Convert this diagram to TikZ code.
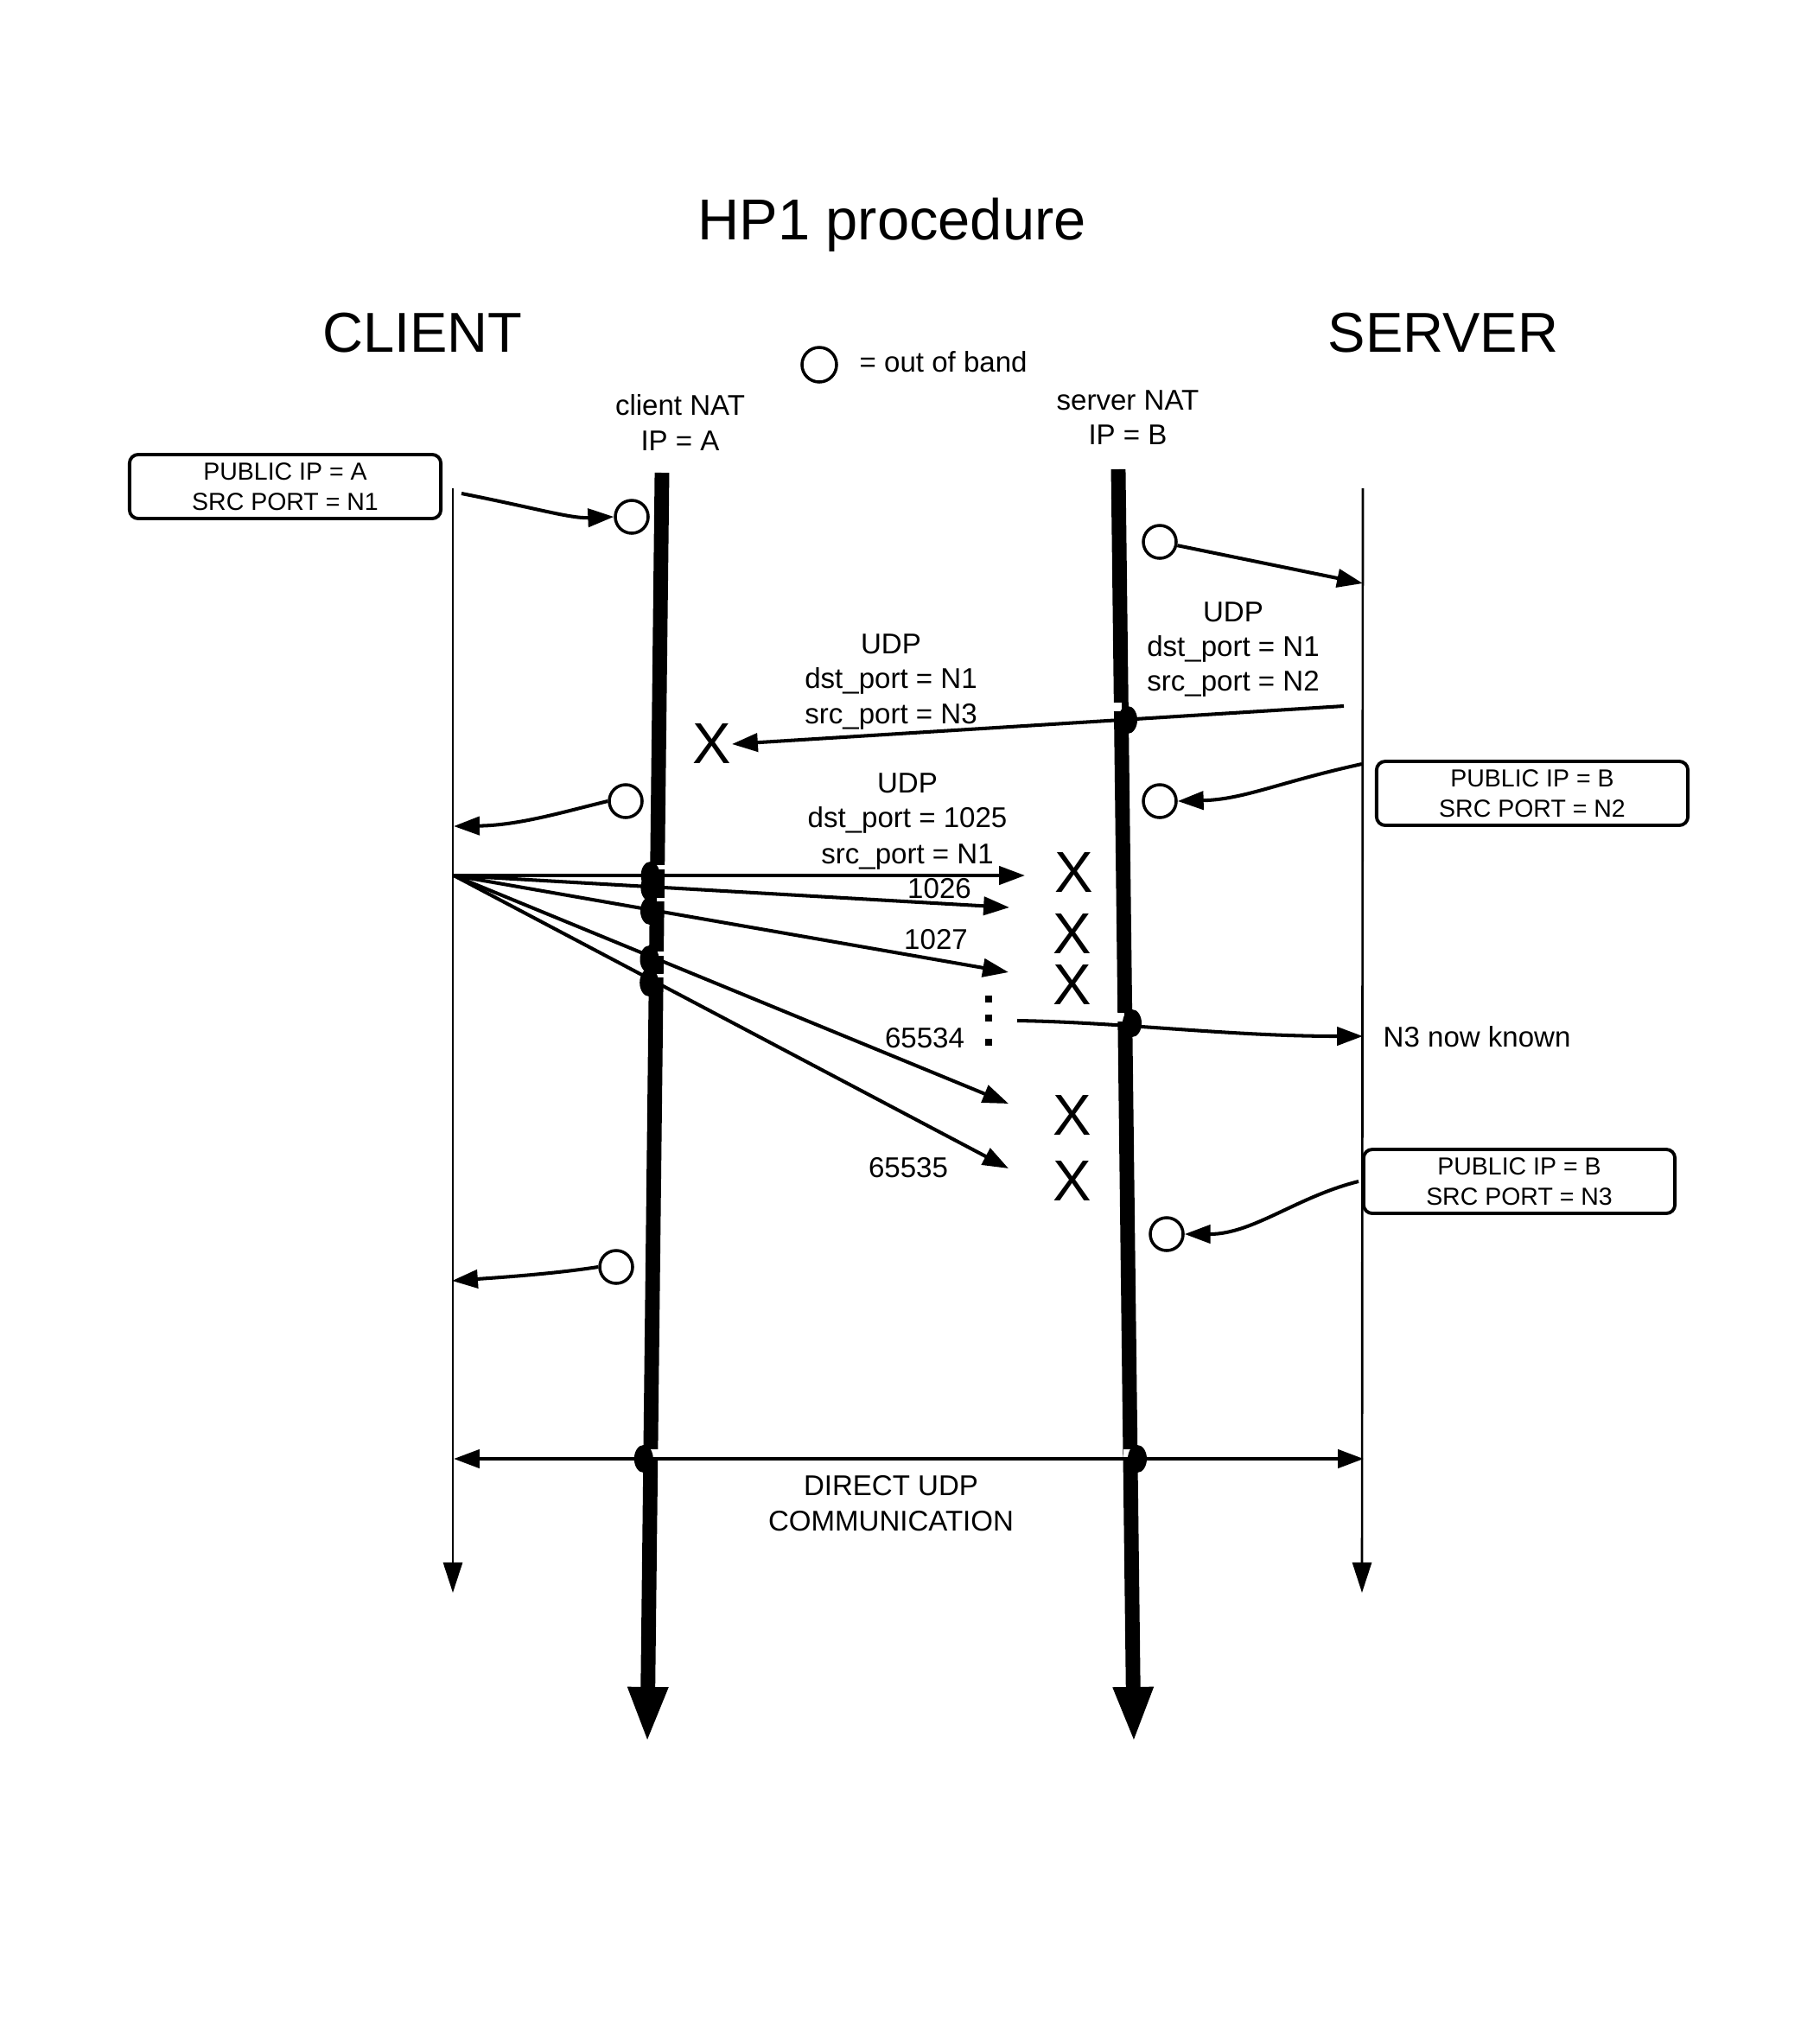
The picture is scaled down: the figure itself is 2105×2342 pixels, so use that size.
\documentclass[tikz,border=0pt]{standalone}
\usepackage{fontspec}
\setmainfont{Liberation Sans}
\usetikzlibrary{arrows.meta}
\begin{document}
\begin{tikzpicture}[x=0.01cm,y=-0.01cm,
  ttl/.style={font=\fontsize{19}{23}\selectfont,inner sep=0,anchor=base},
  hd/.style={font=\fontsize{18.5}{22}\selectfont,inner sep=0,anchor=base},
  lbl/.style={font=\fontsize{9.4}{11}\selectfont,inner sep=0,anchor=base},
  xm/.style={font=\fontsize{19}{19}\selectfont,inner sep=0},
  pubbox/.style={draw,line width=1.1pt,rounded corners=0.1cm,fill=white,minimum width=3.6cm,minimum height=0.74cm,align=center,inner sep=0,font=\fontsize{8.1}{10}\selectfont},
  oob/.style={circle,draw,line width=1pt,fill=white,minimum size=0.38cm,inner sep=0},
  msg/.style={line width=1.15pt,-{Triangle[length=8.5pt,width=6pt]}},
  dmsg/.style={line width=1.15pt,{Triangle[length=8.5pt,width=6pt]}-{Triangle[length=8.5pt,width=6pt]}},
  thinlife/.style={line width=0.75pt,-{Triangle[length=10pt,width=6.3pt]}},
  natlife/.style={line width=4.8pt,-{Triangle[length=18.5pt,width=12pt]}},
  jump/.style={fill=black},
  notch/.style={fill=white}
]
\useasboundingbox (0,0) rectangle (2105,2342);

% headings
\node[ttl] (title) at (1032,277) {HP1 procedure};
\node[hd] (client) at (489,407) {CLIENT};
\node[hd] (server) at (1670,407) {SERVER};
\node[oob,minimum size=0.40cm] (legc) at (948,422) {};
\node[lbl,anchor=base west] (legt) at (994,430) {= out of band};
\node[lbl] (cnat1) at (787,480) {client NAT};
\node[lbl] (cnat2) at (787,521) {IP = A};
\node[lbl] (snat1) at (1305,474) {server NAT};
\node[lbl] (snat2) at (1305,514) {IP = B};

% lifelines
\coordinate (CLtop) at (524,565); \coordinate (CLbot) at (524,1843);
\coordinate (SLtop) at (1577,565); \coordinate (SLbot) at (1576,1843);
\coordinate (CNtop) at (766,547); \coordinate (CNbot) at (749,2017);
\coordinate (SNtop) at (1294,543); \coordinate (SNbot) at (1312,2017);
\draw[thinlife] (CLtop) -- (CLbot);
\draw[thinlife] (SLtop) -- (SLbot);
\draw[natlife] (CNtop) -- (CNbot);
\draw[natlife] (SNtop) -- (SNbot);

% small breaks of the NAT lines at the line jumps
\fill[notch] (1288,813) rectangle (1298,823);
\fill[notch] (1293,1172) rectangle (1301,1182);
\fill[notch] (753,1677) rectangle (762,1686);
\fill[notch] (1300,1677) rectangle (1309,1686);
\fill[notch] (760,1001) rectangle (770,1006);
\fill[notch] (760,1039) rectangle (770,1043);
\fill[notch] (760,1101) rectangle (770,1106);
\fill[notch] (760,1127) rectangle (770,1131);

% step 1
\node[pubbox] (boxA) at (330,563) {PUBLIC IP = A\\SRC PORT = N1};
\coordinate (c1) at (534,571);
\node[oob] (oA1) at (731,598) {};
\draw[msg] (c1) .. controls (620,588) and (660,600) .. (oA1.west);

% step 2
\node[oob] (oB1) at (1342,627) {};
\coordinate (s1) at (1577,675);
\draw[msg] (oB1) -- (s1);

% step 3
\node[lbl] (u1a) at (1427,719) {UDP};
\node[lbl] (u1b) at (1427,759) {dst\_port = N1};
\node[lbl] (u1c) at (1427,799) {src\_port = N2};
\node[lbl] (u2a) at (1031,756) {UDP};
\node[lbl] (u2b) at (1031,796) {dst\_port = N1};
\node[lbl] (u2c) at (1031,837) {src\_port = N3};
\node[xm] (X1) at (824,861) {X};
\coordinate (s2) at (1555,817);
\draw[msg] (s2) -- (X1.east);
\fill[jump] (1305,833) ellipse [x radius=0.11cm,y radius=0.16cm];

% step 4
\node[pubbox] (boxB1) at (1773,918) {PUBLIC IP = B\\SRC PORT = N2};
\coordinate (s3) at (1576,884);
\node[oob] (oB2) at (1342,927) {};
\draw[msg] (s3) .. controls (1480,905) and (1440,925) .. (oB2.east);

\node[oob] (oA2) at (724,927) {};
\coordinate (c2) at (525,956);
\draw[msg] (oA2.west) .. controls (650,940) and (600,955) .. (c2);

% step 5: port scan
\node[lbl] (u3a) at (1050,917) {UDP};
\node[lbl] (u3b) at (1050,957) {dst\_port = 1025};
\node[lbl] (u3c) at (1050,999) {src\_port = N1};
\coordinate (c3) at (525,1013);
\coordinate (t1) at (1186,1013);
\coordinate (t2) at (1168,1050);
\coordinate (t3) at (1167,1125);
\coordinate (t4) at (1167,1277);
\coordinate (t5) at (1167,1352);
\draw[msg] (c3) -- (t1);
\draw[msg] (c3) -- (t2);
\draw[msg] (c3) -- (t3);
\draw[msg] (c3) -- (t4);
\draw[msg] (c3) -- (t5);
\fill[jump] (752.6,1013) ellipse [x radius=0.11cm,y radius=0.16cm];
\fill[jump] (752.4,1027) ellipse [x radius=0.11cm,y radius=0.16cm];
\fill[jump] (752,1054) ellipse [x radius=0.11cm,y radius=0.16cm];
\fill[jump] (751.5,1110) ellipse [x radius=0.11cm,y radius=0.16cm];
\fill[jump] (751.2,1137) ellipse [x radius=0.11cm,y radius=0.16cm];
\node[lbl] (p1026) at (1087,1039) {1026};
\node[lbl] (p1027) at (1083,1098) {1027};
\node[lbl] (p65534) at (1070,1212) {65534};
\node[lbl] (p65535) at (1051,1362) {65535};
\node[xm] (X2) at (1243,1010) {X};
\node[xm] (X3) at (1241,1081) {X};
\node[xm] (X4) at (1241,1140) {X};
\node[xm] (X5) at (1241,1290) {X};
\node[xm] (X6) at (1241,1366) {X};
\fill (1140,1152) rectangle (1148,1160);
\fill (1140,1174) rectangle (1148,1182);
\fill (1140,1202) rectangle (1148,1210);

% step 6: N3 known
\coordinate (n0) at (1177,1181);
\coordinate (s4) at (1577,1199);
\draw[msg] (n0) .. controls (1300,1183) and (1420,1199) .. (s4);
\fill[jump] (1310,1184) ellipse [x radius=0.11cm,y radius=0.16cm];
\node[lbl,anchor=base west] (n3k) at (1600,1211) {N3 now known};

% step 7
\node[pubbox] (boxB2) at (1758,1367) {PUBLIC IP = B\\SRC PORT = N3};
\coordinate (s5) at (1572,1367);
\node[oob] (oB3) at (1350,1428) {};
\draw[msg] (s5) .. controls (1500,1385) and (1450,1428) .. (oB3.east);

\node[oob] (oA3) at (713,1466) {};
\coordinate (c4) at (523,1482);
\draw[msg] (oA3.west) .. controls (640,1474) and (580,1478) .. (c4);

% step 8: direct communication
\coordinate (c5) at (525,1688);
\coordinate (s6) at (1578,1688);
\draw[dmsg] (c5) -- (s6);
\fill[jump] (744.8,1688) ellipse [x radius=0.11cm,y radius=0.16cm];
\fill[jump] (1316,1688) ellipse [x radius=0.11cm,y radius=0.16cm];
\node[lbl] (d1) at (1031,1730) {DIRECT UDP};
\node[lbl] (d2) at (1031,1771) {COMMUNICATION};
\end{tikzpicture}
\end{document}
